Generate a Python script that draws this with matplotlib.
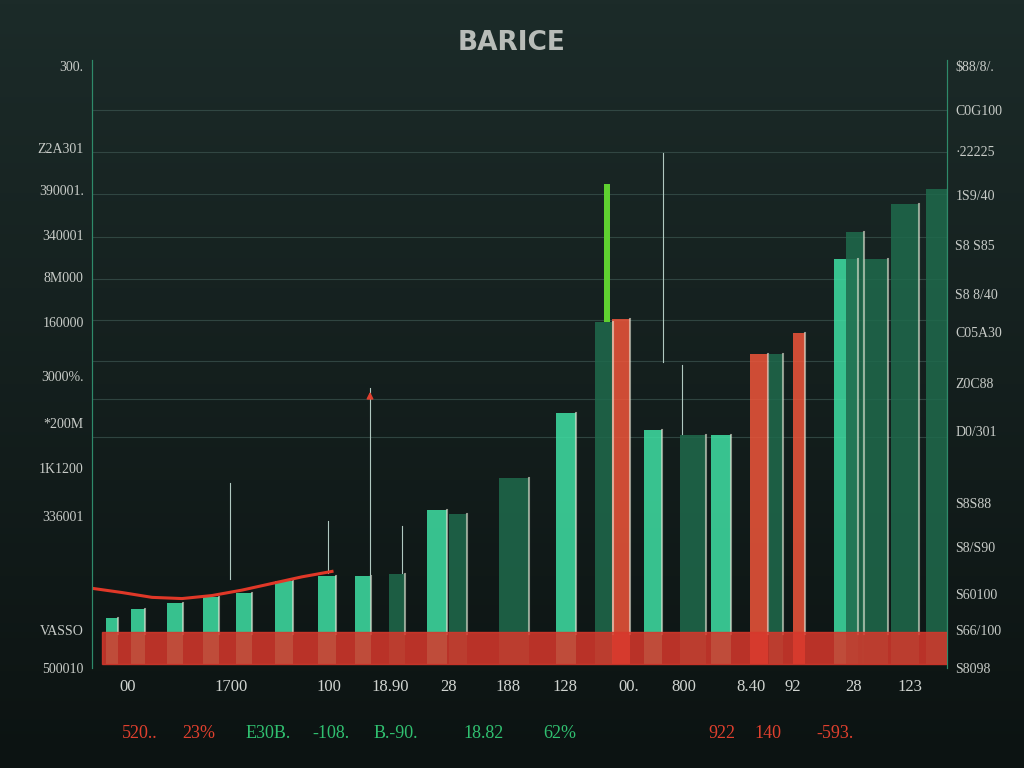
import numpy as np
import matplotlib.pyplot as plt
from matplotlib.colors import LinearSegmentedColormap

# bar data (x position, height, colour kind)
bar_x = [20, 46, 83, 119, 152, 192, 235, 271, 305, 345, 366, 422, 474, 512, 529,
         561, 601, 629, 667, 684, 707, 754, 763, 783, 813, 845]
bar_h = [7.6, 9.0, 10.0, 11.0, 11.7, 13.7, 14.6, 14.5, 14.8, 25.5, 24.8, 30.8, 41.6,
         56.6, 57.1, 38.8, 37.9, 37.9, 51.3, 51.3, 54.8, 67.1, 71.5, 67.1, 76.2, 78.6]
bar_w = [12, 14, 16, 16, 16, 18, 18, 16, 16, 20, 18, 30, 20, 18, 18, 18, 26, 20, 18,
         14, 12, 24, 18, 26, 28, 22]
bar_kind = ['t', 't', 't', 't', 't', 't', 't', 't', 'd', 't', 'd', 'd', 't', 'd', 'r',
            't', 'd', 't', 'r', 'd', 'r', 't', 'd', 'd', 'd', 'd']
kind_col = {'t': '#3fe0a4', 'd': '#1f6a4c', 'r': '#f0553a'}

# thin stems: x, bottom, top
stem_x = [138, 278, 571, 590, 310, 236]
stem_lo = [14, 14, 50, 38, 15, 15]
stem_hi = [30, 45.7, 84.6, 49.5, 22.8, 23.7]

left_ticks = [99, 85.5, 78.5, 71, 64, 56.6, 47.7, 39.8, 32.4, 24.5, 5.6, -0.7]
left_labels = ['300.', 'Z2A301', '390001.', '340001', '8M000', '160000', '3000%.',
               '*200M', '1K1200', '336001', 'VASSO', '500010']
right_ticks = [99, 91.8, 85, 77.6, 69.4, 61.2, 55, 46.5, 38.6, 26.6, 19.4, 11.5, 5.6, -0.7]
right_labels = ['$88/8/.', 'C0G100', '·22225', '1S9/40', 'S8 S85', 'S8 8/40', 'C05A30',
                'Z0C88', 'D0/301', 'S8S88', 'S8/S90', 'S60100', 'S66/100', 'S8098']
xtick_pos = [36, 139, 237, 298, 357, 416, 473, 537, 592, 659, 701, 762, 818]
xtick_labels = ['00', '1700', '100', '18.90', '28', '188', '128', '00.', '800',
                '8.40', '92', '28', '123']
foot_x = [140, 199, 268, 331, 396, 484, 560, 722, 768, 835]
foot_labels = ['520..', '23%', 'E30B.', '-108.', 'B.-90.', '18.82', '62%', '922', '140', '-593.']
foot_red = [1, 1, 0, 0, 0, 0, 0, 1, 1, 1]
curve_x = [0, 30, 60, 90, 120, 150, 180, 210, 240]
curve_y = [12.5, 11.8, 11.0, 10.8, 11.3, 12.2, 13.3, 14.4, 15.3]

fig = plt.figure(figsize=(10.24, 7.68), dpi=100)
bg = fig.add_axes([0, 0, 1, 1])
grad = np.linspace(0, 1, 256).reshape(-1, 1)
cmap = LinearSegmentedColormap.from_list('bg', ['#0c1312', '#1c2b29'])
bg.imshow(grad, aspect='auto', cmap=cmap, origin='lower', extent=[0, 1, 0, 1])
bg.axis('off')

ax = fig.add_axes([92/1024, 100/768, 855/1024, 608/768])
ax.set_facecolor('none')
ax.set_xlim(0, 855)
ax.set_ylim(0, 100)

for y in [91.8, 84.7, 77.8, 70.7, 63.7, 56.9, 50.2, 43.8, 37.5]:
    ax.axhline(y, color='#3c5550', lw=0.8, alpha=0.7)

for x, h, w, k in zip(bar_x, bar_h, bar_w, bar_kind):
    ax.bar(x, h, width=w, color=kind_col[k], alpha=0.85, zorder=2)
    ax.plot([x + w/2, x + w/2], [5, h], color='#e8e8d8', lw=1.5, alpha=0.6, zorder=3)

# bright green spike and thin stems
ax.bar(515, 79.4 - 56.6, bottom=56.6, width=6, color='#5fd030', zorder=3)
for sx, lo, hi in zip(stem_x, stem_lo, stem_hi):
    ax.plot([sx, sx], [lo, hi], color='#b0c8c0', lw=0.8, zorder=3)
ax.annotate('', xy=(278, 45.5), xytext=(278, 44), arrowprops=dict(color='#e04030', arrowstyle='-|>'))

ax.plot(curve_x, curve_y, color='#e03828', lw=2.2, zorder=4)

# red band
ax.axhspan(0, 5.3, xmin=10/855, xmax=1, color='#d8382c', alpha=0.85, zorder=5)

ax.set_yticks(left_ticks)
ax.set_yticklabels(left_labels, fontsize=10, color='#c8ccc8', family='Liberation Serif')
ax.tick_params(axis='y', length=0, pad=6)
ax.set_xticks(xtick_pos)
ax.set_xticklabels(xtick_labels, fontsize=12, color='#d0d4d0', family='Liberation Serif')
ax.tick_params(axis='x', length=0, pad=8)

ax2 = ax.twinx()
ax2.set_ylim(0, 100)
ax2.set_yticks(right_ticks)
ax2.set_yticklabels(right_labels, fontsize=10, color='#c8ccc8', family='Liberation Serif')
ax2.tick_params(axis='y', length=0, pad=6)

for a in (ax, ax2):
    for s in ['top', 'bottom']:
        a.spines[s].set_visible(False)
    a.spines['left'].set_color('#2e8a6a')
    a.spines['right'].set_color('#2e8a6a')

fig.text(0.5, 1 - 43/768, 'BARICE', ha='center', va='center', fontsize=19,
         color='#b8bcb8', weight='bold')
for fx, ft, fr in zip(foot_x, foot_labels, foot_red):
    fig.text(fx/1024, 1 - 733/768, ft, ha='center', va='center', fontsize=13,
             family='Liberation Serif', color='#e0402e' if fr else '#30c070')

fig.savefig('out.png', dpi=100)
